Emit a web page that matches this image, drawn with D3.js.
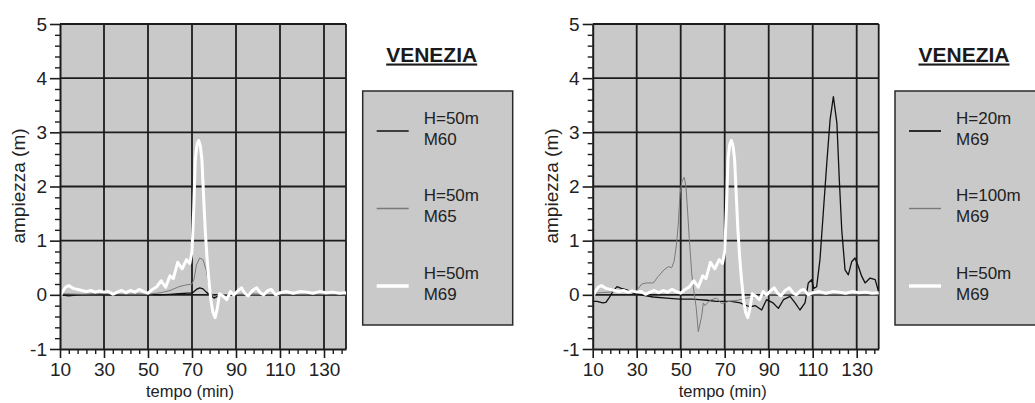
<!DOCTYPE html>
<html>
<head>
<meta charset="utf-8">
<script src="https://cdn.jsdelivr.net/npm/d3@7"></script>
<style>
  body { margin: 0; background: #fff; }
  svg { display: block; font-family: "Liberation Sans", Arial, sans-serif; }
</style>
</head>
<body>
<svg width="1035" height="403"></svg>
<script>
// time (min) / amplitude (m) pairs
const M69_H50 = [
    [10, -0.05], [11, 0.05], [12.5, 0.14], [14, 0.17], [16, 0.12], [18, 0.1], [20, 0.08], [22, 0.06],
    [24, 0.08], [26, 0.05], [28, 0.07], [30, 0.05], [32, 0.06], [34, 0.01], [36, 0.05], [38, 0.08],
    [40, 0.04], [42, 0.08], [44, 0.05], [46, 0.1], [48, 0.06], [50, 0.03], [52, 0.1], [54, 0.15],
    [56, 0.26], [58, 0.14], [60, 0.35], [61.5, 0.3], [63.5, 0.6], [65.5, 0.48], [67.5, 0.65], [69, 0.58],
    [70, 0.8], [70.8, 1.6], [71.5, 2.5], [72.3, 2.78], [73, 2.85], [73.8, 2.75], [74.5, 2.5], [75.3, 1.8],
    [76, 1.2], [76.8, 0.7], [77.6, 0.3], [78.6, -0.1], [79.5, -0.32], [80.5, -0.42], [81.5, -0.25],
    [82.5, 0.02], [84, -0.02], [85.8, -0.09], [87.5, 0.06], [89, 0.0], [91, 0.08], [92.5, 0.13],
    [94, 0.03], [95.5, -0.02], [97.5, 0.08], [99.4, 0.13], [101, 0.04], [102.5, 0.0], [104.5, 0.08],
    [106, 0.1], [108, 0.0], [110, 0.04], [113, 0.06], [116, 0.03], [119, 0.06], [122, 0.05],
    [125, 0.03], [128, 0.06], [131, 0.04], [134, 0.05], [137, 0.03], [140, 0.04]
];
const M60_H50 = [
    [10, 0.0], [14, -0.02], [18, 0.0], [25, 0.01], [35, 0.0], [45, 0.01], [55, 0.0], [60, 0.01],
    [64, 0.02], [68, 0.03], [70, 0.03], [72, 0.1], [73.5, 0.13], [75, 0.11], [76.5, 0.05], [78, 0.0],
    [80, -0.06], [82, -0.02], [85, 0.0], [95, 0.01], [110, 0.0], [125, 0.01], [140, 0.0]
];
const M65_H50 = [
    [10, 0.02], [20, 0.01], [30, 0.02], [40, 0.01], [50, 0.01], [56, 0.04], [60, 0.08], [64, 0.15],
    [67, 0.18], [70, 0.2], [71, 0.3], [72, 0.55], [73.5, 0.68], [75, 0.65], [76.5, 0.45], [77.5, 0.2],
    [78.5, 0.05], [80, -0.03], [82, 0.0], [95, 0.01], [110, 0.0], [125, 0.01], [140, 0.0]
];
const M69_H20 = [
    [10, -0.12], [12, -0.12], [14.5, -0.15], [16, -0.14], [17.5, -0.05], [19, 0.05], [21, 0.15],
    [23, 0.12], [25.5, 0.09], [28.5, 0.03], [33, -0.01], [37.5, -0.04], [43.5, -0.06], [49.5, -0.08],
    [55, -0.08], [58.5, -0.09], [62, -0.1], [66, -0.12], [70, -0.12], [73, -0.12], [77, -0.15],
    [80, -0.2], [81.5, -0.22], [84, -0.2], [86.8, -0.28], [89, -0.09], [92, -0.15], [94.4, -0.25],
    [96.7, -0.09], [99.7, -0.03], [102, -0.15], [104.2, -0.28], [106.5, -0.15], [108, 0.22],
    [109.5, 0.28], [110.5, 0.12], [111.8, 0.15], [113.3, 0.65], [114.8, 1.51], [116.4, 2.43],
    [117.9, 3.23], [119.4, 3.66], [121, 3.17], [122.1, 2.12], [123.2, 1.2], [124.7, 0.46],
    [126.2, 0.37], [127.7, 0.61], [129.2, 0.68], [130.8, 0.52], [132.3, 0.34], [133.8, 0.22],
    [136.1, 0.31], [138.4, 0.28], [140, 0.05]
];
const M69_H100 = [
    [10, 0.03], [14, 0.04], [18, 0.05], [22, 0.07], [26, 0.06], [30, 0.08], [32.3, 0.2], [34.6, 0.22],
    [37.6, 0.22], [39.8, 0.34], [42.4, 0.46], [44.4, 0.52], [45.9, 0.5], [47, 0.62], [48, 0.9],
    [48.9, 1.3], [49.7, 1.87], [50.6, 2.1], [51.6, 2.17], [52.4, 2.0], [53.2, 1.5], [53.9, 1.04],
    [55, 0.4], [55.7, 0.15], [57, -0.22], [58, -0.68], [59.5, -0.4], [60.3, -0.15], [61, -0.2],
    [63.3, -0.1], [66.3, -0.06], [68.6, -0.16], [72, -0.12], [76, -0.1], [80, -0.06], [85, -0.03],
    [90, 0.0], [100, 0.01], [110, 0.0], [120, 0.01], [130, 0.0], [140, 0.0]
];

const X_TICKS = [10, 30, 50, 70, 90, 110, 130];
const Y_TICKS = [-1, 0, 1, 2, 3, 4, 5];
const TITLE = 'VENEZIA';

const LEFT_LABELS = [['H=50m', 'M60'], ['H=50m', 'M65'], ['H=50m', 'M69']];
const RIGHT_LABELS = [['H=20m', 'M69'], ['H=100m', 'M69'], ['H=50m', 'M69']];

const STYLES = [
    {color: '#111', width: 1.3},
    {color: '#7a7a7a', width: 1},
    {color: '#fff', width: 3}
];

const PLOT_W = 286;
const PLOT_H = 325;
const BG = '#c9c9c9';
const INK = '#1c1c1c';

const svg = d3.select('svg');

function drawPanel(left, series, labels, legendLeft) {
    const x = d3.scaleLinear().domain([10, 140]).range([0, PLOT_W]);
    const y = d3.scaleLinear().domain([-1, 5]).range([PLOT_H, 0]);

    const g = svg.append('g').attr('transform', `translate(${left},24)`);

    g.append('rect').attr('width', PLOT_W).attr('height', PLOT_H).attr('fill', BG);

    // grid
    g.selectAll('.vgrid').data(X_TICKS.slice(1).concat([140])).enter()
        .append('line')
        .attr('x1', d => x(d)).attr('x2', d => x(d))
        .attr('y1', 0).attr('y2', PLOT_H)
        .attr('stroke', INK).attr('stroke-width', 1.8);
    g.selectAll('.hgrid').data(Y_TICKS.slice(1)).enter()
        .append('line')
        .attr('x1', 0).attr('x2', PLOT_W)
        .attr('y1', d => y(d)).attr('y2', d => y(d))
        .attr('stroke', INK).attr('stroke-width', 1.8);

    // series, the white one drawn last
    const line = d3.line().x(d => x(d[0])).y(d => y(d[1]));
    series.forEach((s, i) => {
        g.append('path').datum(s)
            .attr('d', line)
            .attr('fill', 'none')
            .attr('stroke', STYLES[i].color)
            .attr('stroke-width', STYLES[i].width)
            .attr('stroke-linejoin', 'round');
    });

    // minor ticks
    const minorX = d3.range(10, 141, 4).filter(v => X_TICKS.indexOf(v) === -1);
    const minorY = d3.range(-10, 51, 2).map(v => v / 10).filter(v => v % 1 !== 0);
    g.append('g').attr('transform', `translate(0,${PLOT_H})`)
        .call(d3.axisBottom(x).tickValues(minorX).tickSize(5).tickSizeOuter(0).tickFormat(''))
        .call(a => a.select('.domain').remove())
        .selectAll('line').attr('stroke', INK).attr('stroke-width', 1.4);
    g.append('g')
        .call(d3.axisLeft(y).tickValues(minorY).tickSize(5).tickSizeOuter(0).tickFormat(''))
        .call(a => a.select('.domain').remove())
        .selectAll('line').attr('stroke', INK).attr('stroke-width', 1.4);

    // major axes
    const xa = g.append('g').attr('transform', `translate(0,${PLOT_H})`)
        .call(d3.axisBottom(x).tickValues(X_TICKS).tickSize(9).tickSizeOuter(0).tickPadding(5)
            .tickFormat(d => String(d)));
    const ya = g.append('g')
        .call(d3.axisLeft(y).tickValues(Y_TICKS).tickSize(10).tickSizeOuter(0).tickPadding(3)
            .tickFormat(d => String(d)));
    [xa, ya].forEach(a => {
        a.select('.domain').attr('stroke', INK).attr('stroke-width', 2);
        a.selectAll('line').attr('stroke', INK).attr('stroke-width', 1.6);
        a.selectAll('text').attr('fill', '#222').style('font-size', '19px')
            .style('font-family', '"Liberation Sans", Arial, sans-serif');
    });

    // axis titles
    g.append('text')
        .attr('x', 130).attr('y', 373)
        .attr('text-anchor', 'middle')
        .attr('fill', '#222').style('font-size', '16.5px')
        .text('tempo (min)');
    g.append('text')
        .attr('transform', `translate(${-35},162) rotate(-90)`)
        .attr('text-anchor', 'middle')
        .attr('fill', '#222').style('font-size', '19px')
        .text('ampiezza (m)');

    // legend
    const lg = svg.append('g').attr('transform', `translate(${legendLeft},0)`);
    lg.append('text')
        .attr('x', 69).attr('y', 61.5)
        .attr('text-anchor', 'middle')
        .attr('fill', '#1a1a1a')
        .style('font-size', '21px').style('font-weight', 'bold')
        .style('text-decoration', 'underline')
        .text(TITLE);
    lg.append('rect')
        .attr('x', 0).attr('y', 91).attr('width', 150).attr('height', 234)
        .attr('fill', BG).attr('stroke', '#2a2a2a').attr('stroke-width', 1.5);
    labels.forEach((lab, i) => {
        const cy = 131 + i * 77.5;
        lg.append('line')
            .attr('x1', 14).attr('x2', 46).attr('y1', cy).attr('y2', cy)
            .attr('stroke', STYLES[i].color).attr('stroke-width', STYLES[i].width + 0.4);
        lg.append('text')
            .attr('x', 61).attr('y', cy - 7.5)
            .attr('fill', '#222').style('font-size', '17px')
            .text(lab[0]);
        lg.append('text')
            .attr('x', 61).attr('y', cy + 13.5)
            .attr('fill', '#222').style('font-size', '17px')
            .text(lab[1]);
    });
}

drawPanel(60, [M60_H50, M65_H50, M69_H50], LEFT_LABELS, 362.7);
drawPanel(592.7, [M69_H20, M69_H100, M69_H50], RIGHT_LABELS, 895);
</script>
</body>
</html>
